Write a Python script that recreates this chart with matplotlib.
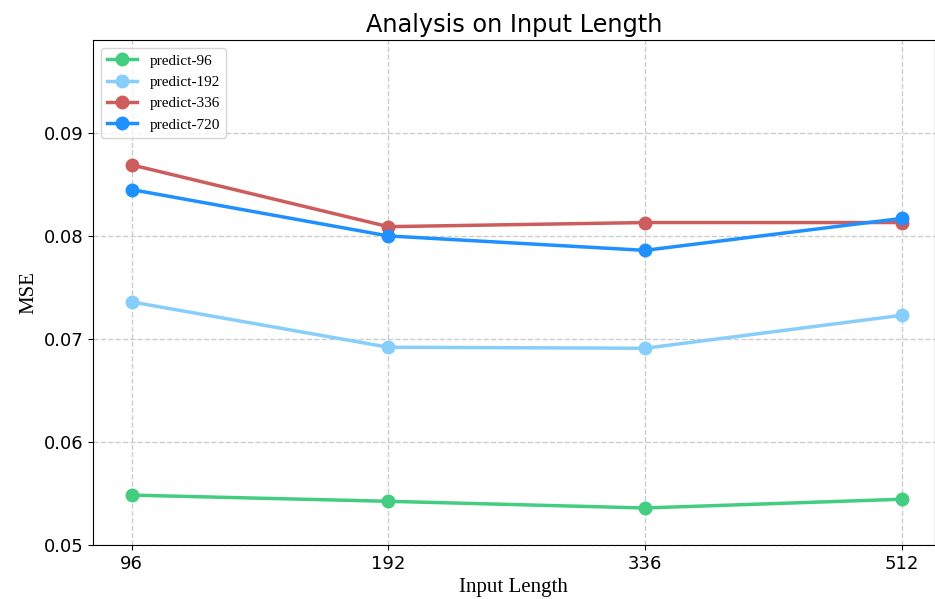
import numpy as np
import matplotlib
matplotlib.use("Agg")
import matplotlib.pyplot as plt

input_lengths = ["96", "192", "336", "512"]
series_names = ["predict-96", "predict-192", "predict-336", "predict-720"]
mse_96 = [0.05485, 0.05425, 0.0536, 0.05445]
mse_192 = [0.0736, 0.0692, 0.0691, 0.0723]
mse_336 = [0.0869, 0.0809, 0.0813, 0.0813]
mse_720 = [0.0845, 0.0800, 0.0786, 0.0817]
colors = ["#43CD80", "#87CEFA", "#CD5C5C", "#1E90FF"]

fig = plt.figure(figsize=(9.35, 5.99), dpi=100)
ax = fig.add_axes([0.0995, 0.09, 0.9, 0.843])
x = np.arange(len(input_lengths))
for name, vals, c in zip(series_names, [mse_96, mse_192, mse_336, mse_720], colors):
    ax.plot(x, vals, marker="o", color=c, lw=2.5, ms=9, label=name)

ax.set_xticks(x)
ax.set_xticklabels(input_lengths)
ax.set_xlim(-0.15, 3.128)
ax.set_ylim(0.05, 0.099)
ax.set_yticks([0.05, 0.06, 0.07, 0.08, 0.09])
ax.tick_params(labelsize=13)
ax.grid(True, ls="--", color="#cccccc", lw=1)
ax.set_title("Analysis on Input Length", fontsize=17.3)
ax.set_xlabel("Input Length", fontsize=15, family="Liberation Serif")
ax.set_ylabel("MSE", fontsize=15, family="Liberation Serif")
ax.legend(loc="upper left", prop={"family": "Liberation Serif", "size": 11})
fig.savefig("out.png", dpi=100)
